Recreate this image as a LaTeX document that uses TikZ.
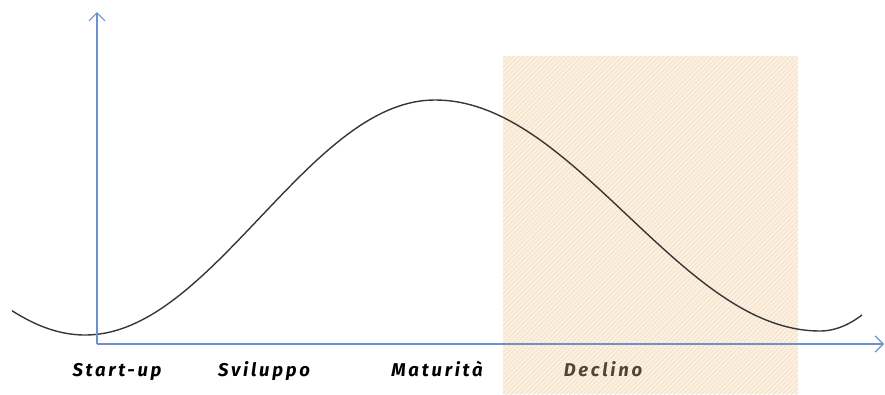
\documentclass[tikz,border=0pt]{standalone}
\usepackage{fontspec}
\setmainfont{Fira Sans}
\newfontfamily\lblfont[LetterSpace=15]{Fira Sans}
\usetikzlibrary{arrows.meta,patterns.meta}
\definecolor{axisblue}{RGB}{110,145,205}
\definecolor{curvegray}{RGB}{55,55,55}
\definecolor{beige}{RGB}{252,241,226}
\definecolor{beigeline}{RGB}{245,225,198}
\definecolor{declcol}{RGB}{80,70,55}
\tikzset{
  axisline/.style={draw=axisblue,line width=1.3pt,-{Straight Barb[length=8pt,width=16pt,line width=1.1pt]}},
  curveline/.style={draw=curvegray,line width=1.4pt},
  phase/.style={font=\lblfont\itshape\bfseries\fontsize{18.5}{22}\selectfont,text=black,anchor=base},
}
\begin{document}
\begin{tikzpicture}[x=1pt,y=-1pt]
\useasboundingbox (0,0) rectangle (885,394);
% shaded decline region
\fill[beige] (503,56) rectangle (798,394);
\fill[pattern={Lines[angle=45,distance=3.2pt,line width=0.9pt]},pattern color=beigeline] (503,56) rectangle (798,394);
% curve
\draw[curveline] plot[domain=12:435,samples=80,smooth] (\x,{217.5+117.5*cos((\x-85)/350*180)})
  -- plot[domain=435:820,samples=80,smooth] (\x,{215.5-115.5*cos((\x-435)/385*180)})
  -- plot[domain=820:862,samples=15,smooth] (\x,{331-0.0091*(\x-820)*(\x-820)});
% axes
\coordinate (O) at (97,344);
\coordinate (Ytop) at (97,12);
\coordinate (Xend) at (884,344);
\draw[axisline] (O) -- (Ytop);
\draw[axisline] (O) -- (Xend);
% labels
\node[phase] (s1) at (117,376) {Start-up};
\node[phase] (s2) at (264,376) {Sviluppo};
\node[phase] (s3) at (437,376) {Maturità};
\node[phase,text=declcol] (s4) at (603,376) {Declino};
\end{tikzpicture}
\end{document}
